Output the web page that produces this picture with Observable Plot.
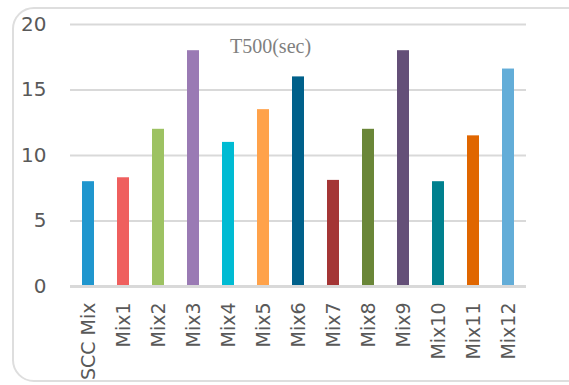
<!DOCTYPE html>
<html>
<head>
<meta charset="utf-8">
<script src="https://cdn.jsdelivr.net/npm/d3@7"></script>
<script src="https://cdn.jsdelivr.net/npm/@observablehq/plot@0.6"></script>
<style>
  html, body { margin: 0; padding: 0; background: #fff; }
  #wrap { position: relative; width: 569px; height: 385px; overflow: hidden; }
  #frame { position: absolute; left: 12px; top: 7px; width: 580px; height: 375px;
           border: 2px solid #dedede; border-radius: 22px; box-sizing: border-box; }
  #chart { position: absolute; left: 0; top: 0; }
</style>
</head>
<body>
<div id="wrap"><div id="frame"></div><div id="chart"></div></div>
<script>
const categories = ["SCC Mix","Mix1","Mix2","Mix3","Mix4","Mix5","Mix6","Mix7","Mix8","Mix9","Mix10","Mix11","Mix12"];
const values = [8.0, 8.3, 12.0, 18.0, 11.0, 13.5, 16.0, 8.1, 12.0, 18.0, 8.0, 11.5, 16.6];
const colors = ["#1F96CE","#EF5F5E","#9DC262","#9A7AB4","#00BBD3","#FFA24A","#00608A","#A43535","#6A8638","#644F78","#00808E","#E06600","#63ADD8"];
const yTicks = [0, 5, 10, 15, 20];
const title = "T500(sec)";

const data = categories.map((c, i) => ({cat: c, value: values[i], color: colors[i]}));

const chart = Plot.plot({
  width: 569,
  height: 385,
  marginLeft: 70,
  marginRight: 43,
  marginTop: 24,
  marginBottom: 99,
  style: {fontFamily: "'DejaVu Sans', sans-serif", background: "transparent", color: "#595959"},
  x: {domain: categories, paddingInner: 0.66, paddingOuter: 0.33, label: null},
  y: {domain: [0, 20], label: null},
  marks: [
    Plot.ruleY(yTicks.filter(d => d > 0), {stroke: "#d9d9d9", strokeWidth: 2}),
    Plot.axisY({ticks: yTicks, tickSize: 0, tickPadding: 24, fontSize: 20, fill: "#595959", label: null}),
    Plot.axisX({tickSize: 0, tickPadding: 16, tickRotate: -90, fontSize: 19, fill: "#595959", label: null}),
    Plot.barY(data, {x: "cat", y: "value", fill: "color"}),
    Plot.ruleY([0], {stroke: "#d9d9d9", strokeWidth: 3}),
    Plot.text([title], {frameAnchor: "top-left", dx: 200, dy: 14, text: d => d, textAnchor: "middle",
      fontFamily: "'Liberation Serif', 'Times New Roman', serif", fontSize: 20, fill: "#808080"})
  ]
});
document.getElementById("chart").appendChild(chart);
</script>
</body>
</html>
